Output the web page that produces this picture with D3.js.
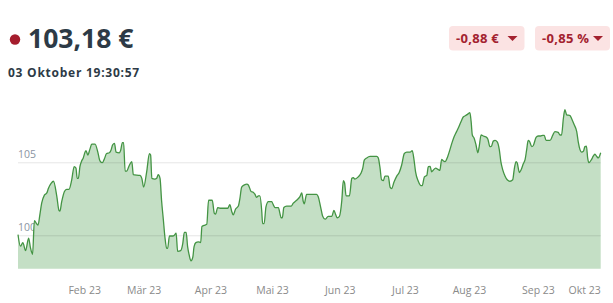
<!DOCTYPE html>
<html>
<head>
<meta charset="utf-8">
<script src="https://cdn.jsdelivr.net/npm/d3@7"></script>
<style>
  html, body { margin: 0; padding: 0; background: #fff; }
  svg { display: block; }
</style>
</head>
<body>
<svg id="chart" width="613" height="303"></svg>
<script>
// ---- data ----
const days = [0,0.8,1.6,2.5,3.5,4.1,4.8,5.4,6.1,6.6,7.2,7.8,8.7,9.5,10.0,10.9,11.7,12.8,13.5,13.8,14.4,15.3,16.0,16.8,17.7,18.5,19.1,19.5,19.9,20.4,21.0,21.5,22.1,22.4,23.0,23.7,24.3,25.4,26.3,27.0,27.8,28.4,29.2,30.1,30.6,31.2,31.8,32.3,33.4,33.8,34.4,34.8,35.3,35.8,36.7,37.5,38.0,40.2,40.8,41.4,42.4,43.3,43.7,44.1,45.1,45.7,46.2,46.8,47.3,47.9,48.4,49.0,49.3,49.9,51.0,51.5,52.1,52.6,53.6,54.3,54.8,55.4,55.9,56.4,57.0,57.6,58.0,58.6,59.4,60.2,60.6,61.6,62.2,62.8,64.0,64.7,65.1,65.8,66.6,69.1,69.8,70.4,70.9,71.7,72.6,73.1,73.7,74.6,75.4,75.9,76.8,77.5,78.1,78.6,79.2,79.7,80.3,80.6,81.1,81.7,82.5,83.6,84.1,84.7,85.8,86.3,86.7,87.1,87.6,88.5,90.0,90.7,91.8,92.9,93.5,94.0,94.3,95.1,98.4,98.9,99.7,100.4,101.2,102.2,103.4,104.1,104.7,105.2,105.9,106.7,107.2,107.6,108.1,109.2,110.0,110.5,111.0,112.1,113.0,113.6,114.1,114.9,116.0,118.2,118.7,119.3,119.8,120.4,120.9,122.0,122.6,123.1,123.9,124.8,125.6,126.4,127.3,128.1,129.2,129.9,130.5,131.0,131.9,132.8,133.2,133.9,134.7,135.2,135.8,136.3,136.8,137.6,138.5,139.0,139.6,140.1,140.7,141.6,142.3,143.1,143.7,144.5,145.3,146.0,146.7,147.5,148.2,148.9,149.3,149.7,150.3,150.9,151.5,151.9,152.6,153.3,154.1,154.8,155.5,156.0,156.6,157.2,157.9,158.6,159.1,159.7,160.5,161.2,162.1,163.0,163.5,164.1,164.5,165.2,165.7,166.5,167.1,167.6,168.1,168.5,169.3,169.8,170.7,171.4,172.2,172.9,173.4,174.0,175.3,176.2,176.9,178.0,178.6,179.1,179.7,180.2,180.8,181.9,182.4,183.2,184.1,184.6,185.2,185.7,186.3,186.8,187.3,187.7,188.1,189.0,189.5,190.1,190.7,191.2,192.0];
const prices = [100.05,99.25,99.5,98.95,99.8,99.15,98.7,101.0,100.8,100.7,101.4,102.2,102.75,102.9,103.2,103.55,103.7,102.65,101.7,101.65,102.3,103.0,103.15,103.15,103.8,104.7,104.6,103.9,103.9,104.7,105.1,105.3,105.7,105.8,105.5,105.9,106.25,106.25,105.7,105.1,104.97,105.2,105.6,105.65,105.8,106.2,106.3,105.7,105.65,105.8,106.35,106.35,104.4,104.4,104.8,105.05,104.15,104.1,103.9,103.3,104.35,105.6,105.5,103.9,103.85,103.9,104.15,103.9,102.4,101.05,99.9,99.1,99.1,99.95,99.95,100.0,100.15,98.9,98.95,99.45,100.2,100.2,99.2,98.65,98.24,98.5,99.2,99.5,99.55,99.5,100.6,100.7,100.75,102.4,102.4,101.5,101.45,101.9,101.85,101.85,102.1,101.65,101.4,101.8,102.0,102.5,103.3,103.45,103.5,103.45,103.0,102.95,102.8,102.6,102.7,102.7,101.7,100.8,100.8,101.95,102.3,102.3,102.1,101.9,101.9,101.5,101.2,101.2,101.9,102.0,102.0,102.2,102.4,102.65,102.9,102.3,102.15,102.8,102.8,102.65,101.95,101.3,101.1,101.3,101.3,101.7,101.4,101.2,101.3,102.4,103.75,103.6,102.7,102.7,103.9,103.95,103.85,104.0,104.25,104.6,105.15,105.3,105.4,105.4,105.3,104.6,103.8,103.75,104.05,104.05,103.3,103.2,103.65,104.05,104.3,104.8,105.6,105.7,105.7,105.8,105.15,104.35,103.7,103.4,103.4,104.0,104.1,104.7,104.72,104.35,104.45,104.6,104.5,104.45,105.2,105.1,105.05,105.4,105.85,106.4,106.75,107.1,107.45,107.8,108.1,108.2,108.3,108.4,107.8,106.87,106.65,106.2,105.65,106.0,106.87,106.8,106.75,106.6,106.07,106.1,106.45,106.5,106.4,105.85,105.05,104.5,104.05,103.8,103.7,103.8,104.5,105.05,104.95,104.3,104.45,104.9,105.2,105.85,106.5,106.45,106.07,106.15,106.7,106.8,106.8,106.85,106.85,106.5,106.5,106.85,107.1,107.05,106.87,106.87,108.0,108.6,108.25,108.2,108.0,107.6,107.1,106.4,105.85,105.7,105.75,106.07,106.1,105.3,104.97,105.2,105.4,105.55,105.4,105.3,105.65];
const tickDays = [21.8, 41.4, 63.4, 83.7, 106, 127.5, 148.6, 171.3, 192];
const tickLabels = ["Feb 23", "Mär 23", "Apr 23", "Mai 23", "Jun 23", "Jul 23", "Aug 23", "Sep 23", "Okt 23"];
const gridValues = [100, 105];
const lastPrice = "103,18 €";
const timestamp = "03 Oktober 19:30:57";
const changes = ["-0,88 €", "-0,85 %"];

// ---- chart ----
const svg = d3.select("#chart");
const font = "'Open Sans', sans-serif";
const yMin = 97.71;

const x = d3.scaleLinear().domain([0, 192]).range([18, 600.7]);
const y = d3.scaleLinear().domain([yMin, 110]).range([268.7, 89.3]);

const data = days.map((d, i) => ({ day: d, v: prices[i] }));

const area = d3.area()
  .x(d => x(d.day)).y0(y(yMin)).y1(d => y(d.v))
  .curve(d3.curveMonotoneX);
const line = d3.line()
  .x(d => x(d.day)).y(d => y(d.v))
  .curve(d3.curveMonotoneX);

// grid labels (behind)
svg.append("g").selectAll("text").data(gridValues).join("text")
  .attr("x", x(0)).attr("y", d => y(d) - 4.5)
  .attr("font-family", font).attr("font-size", 10.5)
  .attr("fill", "#8a94a2")
  .text(d => d);

svg.append("path").datum(data)
  .attr("d", area).attr("fill", "#c4dfc5");

// grid lines
svg.append("g").selectAll("line").data(gridValues).join("line")
  .attr("x1", x(0)).attr("x2", x(192))
  .attr("y1", d => y(d) + 0.5).attr("y2", d => y(d) + 0.5)
  .attr("stroke", "rgba(0,0,0,0.1)").attr("stroke-width", 1);

svg.append("path").datum(data)
  .attr("d", line).attr("fill", "none")
  .attr("stroke", "#449444").attr("stroke-width", 1.3)
  .attr("stroke-linejoin", "round");

// x axis
const xAxis = d3.axisBottom(x)
  .tickValues(tickDays)
  .tickFormat((d, i) => tickLabels[i])
  .tickSize(0).tickPadding(0);
const ax = svg.append("g").attr("transform", "translate(0,287)").call(xAxis);
ax.select(".domain").remove();
ax.selectAll("text")
  .attr("font-family", font).attr("font-size", 10.5)
  .attr("fill", "#8a8a8a");
ax.selectAll("text").each(function() {
  const bb = this.getBBox();
  const tr = this.parentNode.getAttribute("transform");
  const tx = +tr.match(/translate\(([-\d.]+)/)[1];
  const right = tx + bb.x + bb.width;
  if (right > x(192)) d3.select(this).attr("x", x(192) - right);
});

// header
svg.append("circle").attr("cx", 15).attr("cy", 39.5).attr("r", 5.2).attr("fill", "#a51d2d");
svg.append("text").attr("x", 28).attr("y", 47.5)
  .attr("font-family", font).attr("font-weight", 700).attr("font-size", 26.5)
  .attr("fill", "#2d3a46").text(lastPrice);
svg.append("text").attr("x", 8).attr("y", 76.5)
  .attr("font-family", font).attr("font-weight", 700).attr("font-size", 12)
  .attr("letter-spacing", 0.75)
  .attr("fill", "#2d3a46").text(timestamp);

// change badges
const badges = [{ x0: 449, x1: 524.5, t: changes[0] }, { x0: 535, x1: 610, t: changes[1] }];
const bg = svg.append("g").selectAll("g").data(badges).join("g");
bg.append("rect")
  .attr("x", d => d.x0).attr("y", 26).attr("width", d => d.x1 - d.x0).attr("height", 24.5)
  .attr("rx", 4).attr("fill", "#fbe3e3");
bg.append("text")
  .attr("x", d => d.x0 + 7).attr("y", 42.5)
  .attr("font-family", font).attr("font-weight", 700).attr("font-size", 13)
  .attr("letter-spacing", 0.3)
  .attr("fill", "#a3222f").text(d => d.t);
bg.append("path")
  .attr("d", d => `M${d.x1 - 17},36 L${d.x1 - 7},36 L${d.x1 - 12},41 Z`)
  .attr("fill", "#a3222f");
</script>
</body>
</html>
